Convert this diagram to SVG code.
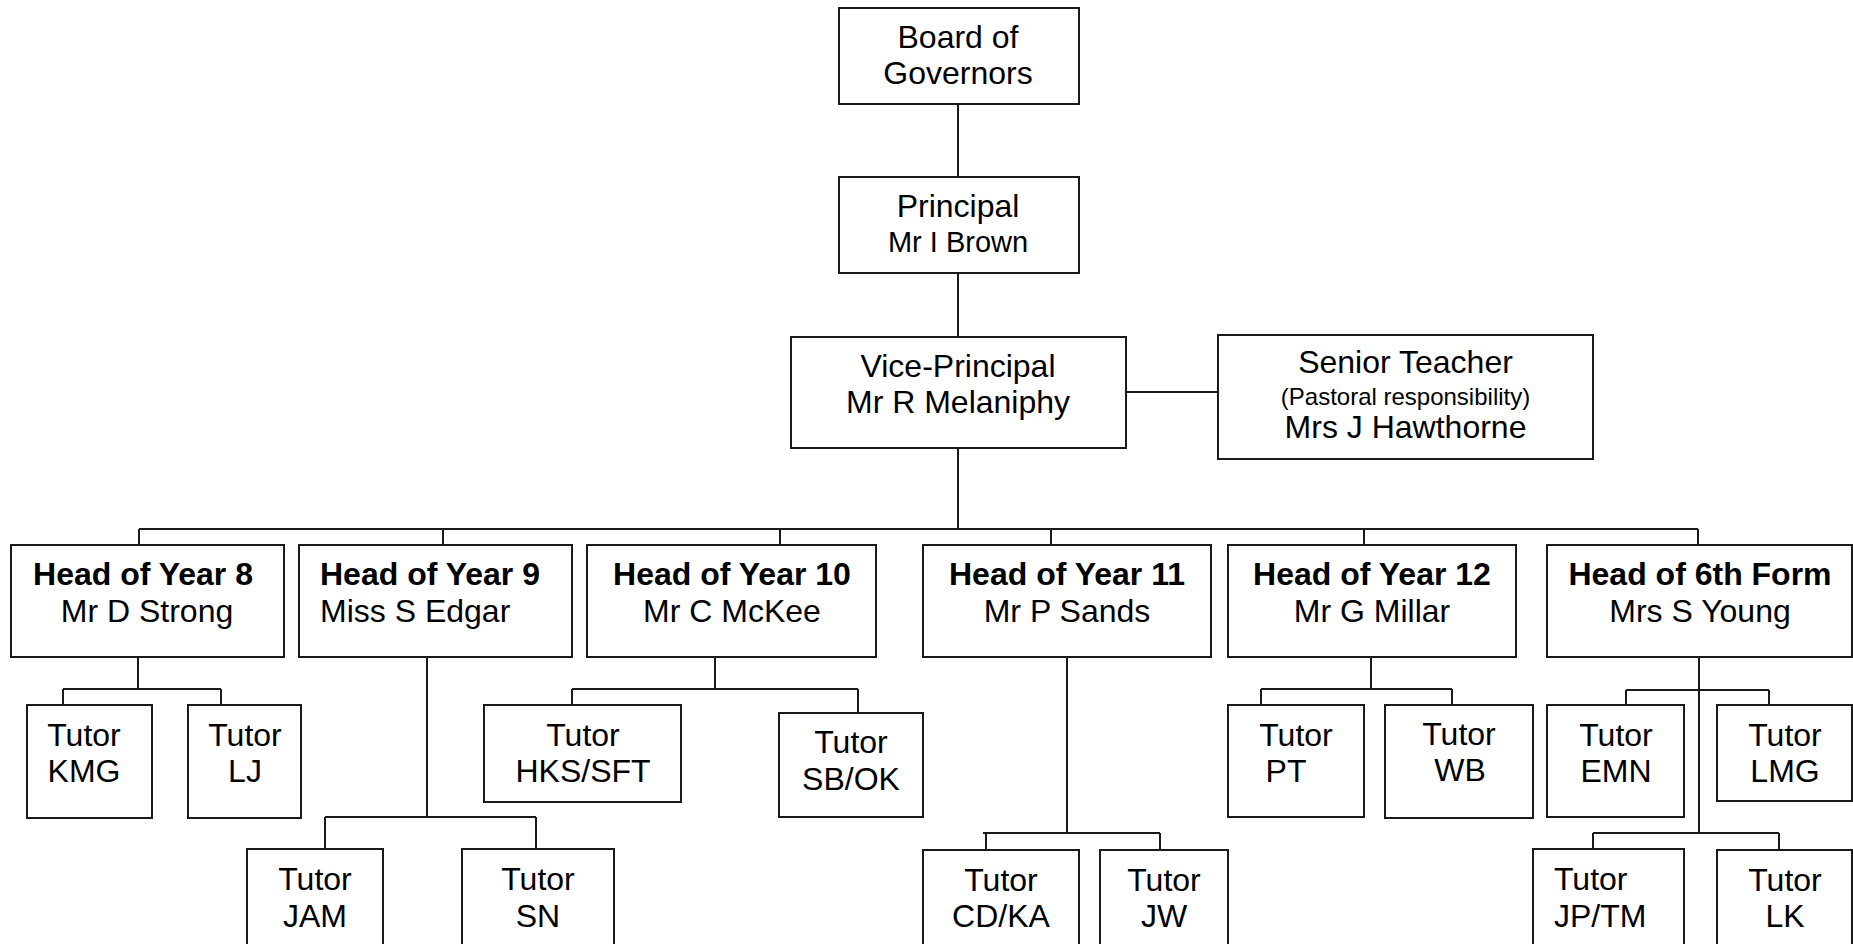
<svg xmlns="http://www.w3.org/2000/svg" width="1853" height="944" viewBox="0 0 1853 944">
<style>
rect{fill:#fff;stroke:#1a1a1a;stroke-width:2}
.c path{fill:none;stroke:#1a1a1a;stroke-width:2}
text{font-family:"Liberation Sans",Arial,sans-serif;font-size:32px;fill:#000;text-anchor:middle}
.b{font-weight:bold}
.s{font-size:24px}
.l{text-anchor:start}
</style>
<rect x="0" y="0" width="1853" height="944" style="fill:#fff;stroke:none"/>
<g class="c" id="connectors">
<path d="M958 104V177M958 273V337M1126 392H1218M958 448V529M139 529H1698M139 529V545M443 529V545M780 529V545M1051 529V545M1364 529V545M1698 529V545"/>
<path d="M138 657V689M63 689H221M63 689V705M221 689V705"/>
<path d="M427 657V817M325 817H536M325 817V849M536 817V849"/>
<path d="M715 657V689M572 689H858M572 689V705M858 689V713"/>
<path d="M1067 657V833M983 833H1160M986 833V850M1160 833V850"/>
<path d="M1371 657V689M1261 689H1452M1261 689V705M1452 689V705"/>
<path d="M1699 657V833M1626 690H1769M1626 690V705M1769 690V705M1593 833H1779M1593 833V849M1779 833V850"/>
</g>
<g id="board"><rect x="839" y="8" width="240" height="96"/><text x="958" y="48">Board of</text><text x="958" y="84">Governors</text></g>
<g id="principal"><rect x="839" y="177" width="240" height="96"/><text x="958" y="217">Principal</text><text x="958" y="252" style="font-size:29px">Mr I Brown</text></g>
<g id="vice-principal"><rect x="791" y="337" width="335" height="111"/><text x="958" y="377">Vice-Principal</text><text x="958" y="413">Mr R Melaniphy</text></g>
<g id="senior-teacher"><rect x="1218" y="335" width="375" height="124"/><text x="1405.5" y="373">Senior Teacher</text><text class="s" x="1405.5" y="405">(Pastoral responsibility)</text><text x="1405.5" y="438">Mrs J Hawthorne</text></g>
<g id="hoy8"><rect x="11" y="545" width="273" height="112"/><text class="b" x="143" y="585">Head of Year 8</text><text x="147" y="622">Mr D Strong</text></g>
<g id="hoy9"><rect x="299" y="545" width="273" height="112"/><text class="b l" x="320" y="585">Head of Year 9</text><text class="l" x="320" y="622">Miss S Edgar</text></g>
<g id="hoy10"><rect x="587" y="545" width="289" height="112"/><text class="b" x="732" y="585">Head of Year 10</text><text x="732" y="622">Mr C McKee</text></g>
<g id="hoy11"><rect x="923" y="545" width="288" height="112"/><text class="b" x="1067" y="585">Head of Year 11</text><text x="1067" y="622">Mr P Sands</text></g>
<g id="hoy12"><rect x="1228" y="545" width="288" height="112"/><text class="b" x="1372" y="585">Head of Year 12</text><text x="1372" y="622">Mr G Millar</text></g>
<g id="ho6"><rect x="1547" y="545" width="305" height="112"/><text class="b" x="1700" y="585">Head of 6th Form</text><text x="1700" y="622">Mrs S Young</text></g>
<g id="kmg"><rect x="27" y="705" width="125" height="113"/><text x="84" y="746">Tutor</text><text x="84" y="782">KMG</text></g>
<g id="lj"><rect x="188" y="705" width="113" height="113"/><text x="245" y="746">Tutor</text><text x="245" y="782">LJ</text></g>
<g id="hks"><rect x="484" y="705" width="197" height="97"/><text x="583" y="746">Tutor</text><text x="583" y="782">HKS/SFT</text></g>
<g id="sbok"><rect x="779" y="713" width="144" height="104"/><text x="851" y="753">Tutor</text><text x="851" y="790">SB/OK</text></g>
<g id="pt"><rect x="1228" y="705" width="136" height="112"/><text x="1296" y="746">Tutor</text><text x="1286" y="782">PT</text></g>
<g id="wb"><rect x="1385" y="705" width="148" height="113"/><text x="1459" y="745">Tutor</text><text x="1460" y="781">WB</text></g>
<g id="emn"><rect x="1547" y="705" width="137" height="112"/><text x="1616" y="746">Tutor</text><text x="1616" y="782">EMN</text></g>
<g id="lmg"><rect x="1717" y="705" width="135" height="96"/><text x="1785" y="746">Tutor</text><text x="1785" y="782">LMG</text></g>
<g id="jam"><rect x="247" y="849" width="136" height="120"/><text x="315" y="890">Tutor</text><text x="315" y="927">JAM</text></g>
<g id="sn"><rect x="462" y="849" width="152" height="120"/><text x="538" y="890">Tutor</text><text x="538" y="927">SN</text></g>
<g id="cdka"><rect x="923" y="850" width="156" height="120"/><text x="1001" y="891">Tutor</text><text x="1001" y="927">CD/KA</text></g>
<g id="jw"><rect x="1100" y="850" width="128" height="120"/><text x="1164" y="891">Tutor</text><text x="1164" y="927">JW</text></g>
<g id="jptm"><rect x="1533" y="849" width="151" height="120"/><text class="l" x="1554" y="890">Tutor</text><text class="l" x="1554" y="927">JP/TM</text></g>
<g id="lk"><rect x="1717" y="850" width="135" height="120"/><text x="1785" y="891">Tutor</text><text x="1785" y="927">LK</text></g>
</svg>
